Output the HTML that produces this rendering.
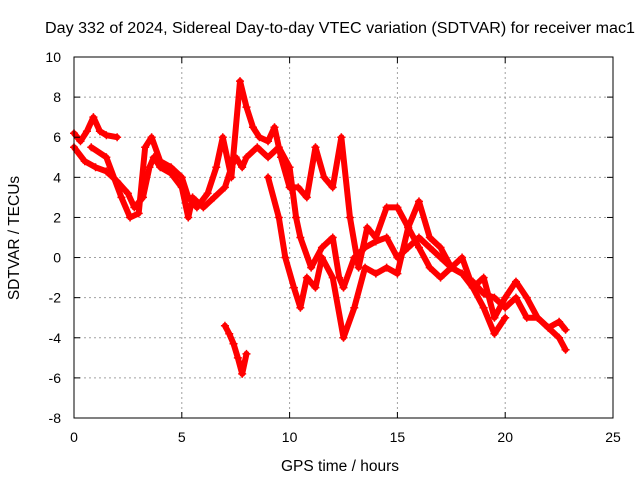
<!DOCTYPE html>
<html><head><meta charset="utf-8"><style>
body{margin:0;background:#fff;}
svg{display:block;font-family:"Liberation Sans",sans-serif;}
</style></head><body>
<svg id="chart" width="640" height="480" viewBox="0 0 640 480">
<text x="340" y="33" font-size="15.5" text-anchor="middle" textLength="590" lengthAdjust="spacingAndGlyphs">Day 332 of 2024, Sidereal Day-to-day VTEC variation (SDTVAR) for receiver mac1</text>
<g id="grid"></g>
<g id="series"></g>
<rect x="74" y="57" width="539" height="361" fill="none" stroke="#000" stroke-width="1"/>
<g id="ticks"></g>
<text x="340" y="471" font-size="15.5" text-anchor="middle">GPS time / hours</text>
<text x="19" y="238" font-size="15.5" text-anchor="middle" transform="rotate(-90 19 238)">SDTVAR / TECUs</text>
</svg>
<script>
const xTicks=[0,5,10,15,20,25];
const yTicks=[-8,-6,-4,-2,0,2,4,6,8,10];
const t1=[0,0.3,0.6,0.9,1.2,1.5,2.0];
const v1=[6.2,5.8,6.3,7.0,6.3,6.1,6.0];
const t2=[0,0.5,1,1.5,2,2.5,2.8,3.2,3.5,3.7,4,4.5,5,5.3,5.5,6,6.5,7,7.3,7.5,7.8,8,8.5,9,9.5,10,10.3,10.5,11,11.5,12,12.3,12.5,13,13.5,14,14.5,15,15.5,16,16.5,17,17.5,18,18.5,19,19.5,20,20.5,21,21.5,22,22.5,22.8];
const v2=[5.5,4.8,4.5,4.3,3.8,3.2,2.5,3.0,4.5,5.0,4.5,4.2,3.5,2.0,3.0,2.5,3.0,3.5,4.5,5.0,4.5,5.0,5.5,5.0,5.5,4.5,2.0,1.0,-0.5,0.5,1.0,-1.0,-1.5,0.0,0.5,0.8,1.0,0.0,0.5,1.0,0.5,0.0,-0.5,-0.8,-1.2,-1.8,-2.0,-2.5,-2.0,-3.0,-3.0,-3.5,-4.0,-4.6];
const t3=[0.8,1.5,2.2,2.6,3.0,3.3,3.6,4.0,4.5,5.0,5.3,5.7,6.2,6.6,6.9,7.3,7.7,8.0,8.3,8.6,9.0,9.3,9.6,10,10.4,10.8,11.2,11.6,12,12.4,12.8,13.2,13.6,14,14.5,15,15.5,16,16.5,17,17.5,18,18.5,19,19.5,20,20.5,21,21.5,22,22.5,22.8];
const v3=[5.5,5.0,3.0,2.0,2.2,5.5,6.0,4.8,4.5,4.0,3.0,2.5,3.2,4.5,6.0,4.0,8.8,7.5,6.5,6.0,5.8,6.5,5.0,3.5,3.5,3.0,5.5,4.0,3.5,6.0,2.0,-0.5,1.5,1.0,2.5,2.5,1.5,2.8,1.0,0.5,-0.5,0.0,-1.5,-1.0,-3.0,-2.0,-1.2,-2.0,-3.0,-3.5,-3.2,-3.6];
const t4=[9.0,9.5,9.8,10.2,10.5,10.8,11.2,11.5,12,12.5,13,13.5,14,14.5,15,15.5,16,16.5,17,17.5,18,18.5,19,19.5,20];
const v4=[4.0,2.0,0.0,-1.5,-2.5,-1.0,-1.5,0.0,-1.0,-4.0,-2.5,-0.5,-0.8,-0.5,-0.8,1.5,0.5,-0.5,-1.0,-0.5,-0.8,-1.5,-2.5,-3.8,-3.0];
const t5=[7.0,7.2,7.4,7.6,7.8,8.0];
const v5=[-3.4,-3.8,-4.3,-5.0,-5.8,-4.8];

const NS="http://www.w3.org/2000/svg";
const X=t=>74+t*539/25;
const Y=v=>418-(v+8)*361/18;
const grid=document.getElementById('grid'),ticks=document.getElementById('ticks'),ser=document.getElementById('series');
function mk(tag,attrs,parent){const e=document.createElementNS(NS,tag);for(const k in attrs)e.setAttribute(k,attrs[k]);parent.appendChild(e);return e;}
xTicks.forEach(t=>{
  const x=X(t);
  if(t>0&&t<25){const g=mk('line',{x1:x,x2:x,y1:57,y2:418,stroke:'#a0a0a0','stroke-dasharray':'2,3'},grid);
  
  }
  const l=mk('text',{x:x,y:442,'font-size':14,'text-anchor':'middle'},ticks);l.textContent=t;
  
  
  mk('line',{x1:x,x2:x,y1:418,y2:412,stroke:'#000'},ticks);
  mk('line',{x1:x,x2:x,y1:57,y2:63,stroke:'#000'},ticks);
});
yTicks.forEach(v=>{
  const y=Y(v);
  if(v>-8&&v<10){const g=mk('line',{x1:74,x2:613,y1:y,y2:y,stroke:'#a0a0a0','stroke-dasharray':'2,3'},grid);
  
  }
  const l=mk('text',{x:61,y:y+5,'font-size':14,'text-anchor':'end'},ticks);l.textContent=v;
  
  
  mk('line',{x1:74,x2:80,y1:y,y2:y,stroke:'#000'},ticks);
  mk('line',{x1:613,x2:607,y1:y,y2:y,stroke:'#000'},ticks);
});
[[t1,v1],[t2,v2],[t3,v3],[t4,v4],[t5,v5]].forEach((s,i)=>{
  const [ts,vs]=s;
  const pts=ts.map((t,j)=>X(t)+','+Y(vs[j])).join(' ');
  const pl=mk('polyline',{points:pts,fill:'none',stroke:'#ff0000','stroke-width':6,'stroke-linejoin':'round','stroke-linecap':'round'},ser);
  
  
  ts.forEach((t,j)=>{
    const x=X(t),y=Y(vs[j]);
    const p=mk('path',{d:`M${x-4},${y}H${x+4}M${x},${y-4}V${y+4}`,stroke:'#ff0000','stroke-width':1.5},ser);
    
    
  });
});
</script>
</body></html>
